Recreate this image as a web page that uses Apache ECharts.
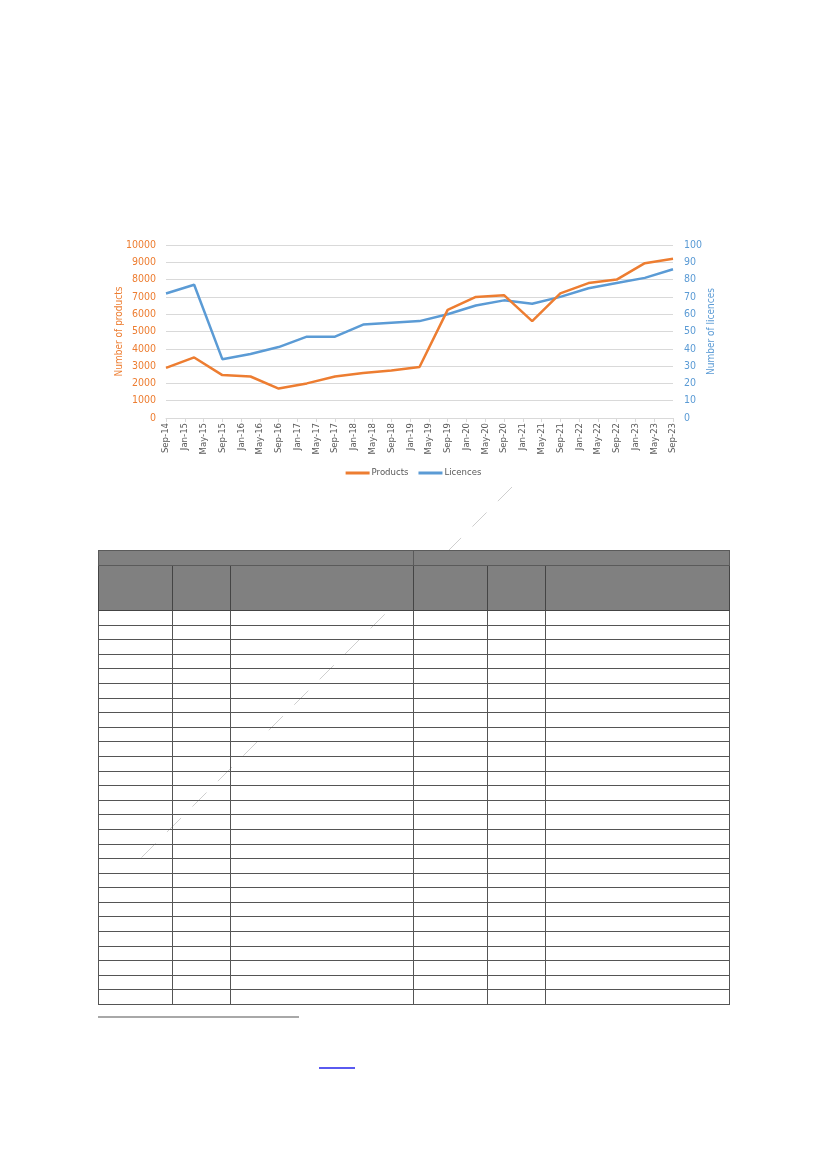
<!DOCTYPE html>
<html>
<head>
<meta charset="utf-8">
<script src="https://cdn.jsdelivr.net/npm/echarts@6/dist/echarts.min.js"></script>
<style>
  html, body { margin: 0; padding: 0; background: #fff; }
  #page { position: relative; width: 827px; height: 1169px; overflow: hidden; background: #fff; }
  #chart { position: absolute; left: 0; top: 0; width: 827px; height: 1169px; z-index: 2; pointer-events: none; }
  #tbl { position: absolute; left: 98px; top: 550px; border-collapse: collapse; table-layout: fixed; width: 631px; z-index: 3; }
  #tbl td { border: 1px solid #555; padding: 0; }
  #tbl tr.h1 td { height: 14px; background: #808080; border-color: #5a5a5a; }
  #tbl tr.h2 td { height: 44px; background: #808080; border-color: #444; }
  #tbl tr.b td { height: 13.6px; background: transparent; }
  #tbl td.lg { border-left-color: #999; }
  #foot { position: absolute; left: 98px; top: 1016px; width: 201px; height: 2px; background: #a8a8a8; }
  #link { position: absolute; left: 319px; top: 1067px; width: 36px; height: 1.5px; background: #5a5af0; }
</style>
</head>
<body>
<div id="page">
  <div id="chart"></div>
  <table id="tbl"></table>
  <div id="foot"></div>
  <div id="link"></div>
</div>
<script>
// ---- data ----
const tickLabels = ['Sep-14','Jan-15','May-15','Sep-15','Jan-16','May-16','Sep-16','Jan-17','May-17','Sep-17',
  'Jan-18','May-18','Sep-18','Jan-19','May-19','Sep-19','Jan-20','May-20','Sep-20','Jan-21','May-21',
  'Sep-21','Jan-22','May-22','Sep-22','Jan-23','May-23','Sep-23'];
const periods = ['Sep-14','Mar-15','Sep-15','Mar-16','Sep-16','Mar-17','Sep-17','Mar-18','Sep-18','Mar-19',
  'Sep-19','Mar-20','Sep-20','Mar-21','Sep-21','Mar-22','Sep-22','Mar-23','Sep-23'];
const products = [2900, 3500, 2480, 2400, 1700, 2000, 2400, 2600, 2750, 2950,
  6250, 7000, 7100, 5600, 7200, 7800, 8000, 8950, 9200];
const licences = [72, 77, 34, 37, 41, 47, 47, 54, 55, 56,
  60, 65, 68, 66, 70, 75, 78, 81, 86];
const tableRows = 27;

// ---- helpers ----
const monthNames = ['Jan','Feb','Mar','Apr','May','Jun','Jul','Aug','Sep','Oct','Nov','Dec'];
function monthIndex(label) {
  const [m, y] = label.split('-');
  return (2000 + Number(y)) * 12 + monthNames.indexOf(m);
}
const origin = monthIndex(tickLabels[0]);
const xOf = p => monthIndex(p) - origin;
const span = monthIndex(tickLabels[tickLabels.length - 1]) - origin;

const FONT = "'DejaVu Sans Condensed', 'Liberation Sans Narrow', sans-serif";
const ORANGE = '#ED7D31', BLUE = '#5B9BD5';

const chart = echarts.init(document.getElementById('chart'), null, { renderer: 'canvas' });
chart.setOption({
  animation: false,
  textStyle: { fontFamily: FONT },
  grid: { left: 166, right: 154, top: 245, bottom: 751, containLabel: false },
  legend: {
    top: 463, left: 'center', itemWidth: 24, itemHeight: 3, itemGap: 10, icon: 'rect',
    textStyle: { fontFamily: FONT, fontSize: 9.5, color: '#595959', padding: [0, 0, 0, -3] },
    data: ['Products', 'Licences']
  },
  xAxis: {
    type: 'value', min: 0, max: span, interval: 4,
    axisLine: { lineStyle: { color: '#D9D9D9' } },
    axisTick: { show: true, length: 4, lineStyle: { color: '#D9D9D9' } },
    splitLine: { show: false },
    axisLabel: {
      rotate: 90, fontSize: 9.5, color: '#595959', fontFamily: FONT, margin: 5,
      formatter: v => tickLabels[Math.round(v / 4)] || ''
    }
  },
  yAxis: [
    {
      type: 'value', min: 0, max: 10000, interval: 1000, position: 'left',
      name: 'Number of products', nameLocation: 'middle', nameRotate: 90, nameGap: 42,
      nameMoveOverlap: false,
      nameTextStyle: { color: ORANGE, fontSize: 10, fontFamily: FONT },
      axisLine: { show: false }, axisTick: { show: false },
      axisLabel: { color: ORANGE, fontSize: 10.5, fontFamily: FONT, margin: 10, formatter: v => String(v) },
      splitLine: { lineStyle: { color: '#D9D9D9', width: 1 } }
    },
    {
      type: 'value', min: 0, max: 100, interval: 10, position: 'right',
      name: 'Number of licences', nameLocation: 'middle', nameRotate: 90, nameGap: 33,
      nameMoveOverlap: false,
      nameTextStyle: { color: BLUE, fontSize: 10, fontFamily: FONT },
      axisLine: { show: false }, axisTick: { show: false },
      axisLabel: { color: BLUE, fontSize: 10.5, fontFamily: FONT, margin: 11, formatter: v => String(v) },
      splitLine: { show: false }
    }
  ],
  series: [
    {
      name: 'Products', type: 'line', yAxisIndex: 0, showSymbol: false, symbol: 'none',
      lineStyle: { color: ORANGE, width: 2.5 }, itemStyle: { color: ORANGE },
      data: periods.map((p, i) => [xOf(p), products[i]]), z: 3
    },
    {
      name: 'Licences', type: 'line', yAxisIndex: 1, showSymbol: false, symbol: 'none',
      lineStyle: { color: BLUE, width: 2.5 }, itemStyle: { color: BLUE },
      data: periods.map((p, i) => [xOf(p), licences[i]]), z: 2
    }
  ],
  graphic: [
    {
      type: 'line', z: 100, silent: true,
      shape: { x1: 512, y1: 487, x2: 140, y2: 859 },
      style: { stroke: '#cfcfcf', lineWidth: 1, lineDash: [20, 16] }
    }
  ]
});

// ---- table ----
const widths = [74, 58, 183, 74, 58, 184];
const tbl = document.getElementById('tbl');
const cg = document.createElement('colgroup');
widths.forEach(w => { const c = document.createElement('col'); c.style.width = w + 'px'; cg.appendChild(c); });
tbl.appendChild(cg);
let tr = document.createElement('tr'); tr.className = 'h1';
for (let k = 0; k < 2; k++) { const td = document.createElement('td'); td.colSpan = 3; tr.appendChild(td); }
tbl.appendChild(tr);
tr = document.createElement('tr'); tr.className = 'h2';
widths.forEach(() => tr.appendChild(document.createElement('td')));
tbl.appendChild(tr);
for (let r = 0; r < tableRows; r++) {
  tr = document.createElement('tr'); tr.className = 'b';
  widths.forEach((w, i) => { const td = document.createElement('td'); if (i === 2) td.className = 'lg'; tr.appendChild(td); });
  tbl.appendChild(tr);
}
</script>
</body>
</html>
